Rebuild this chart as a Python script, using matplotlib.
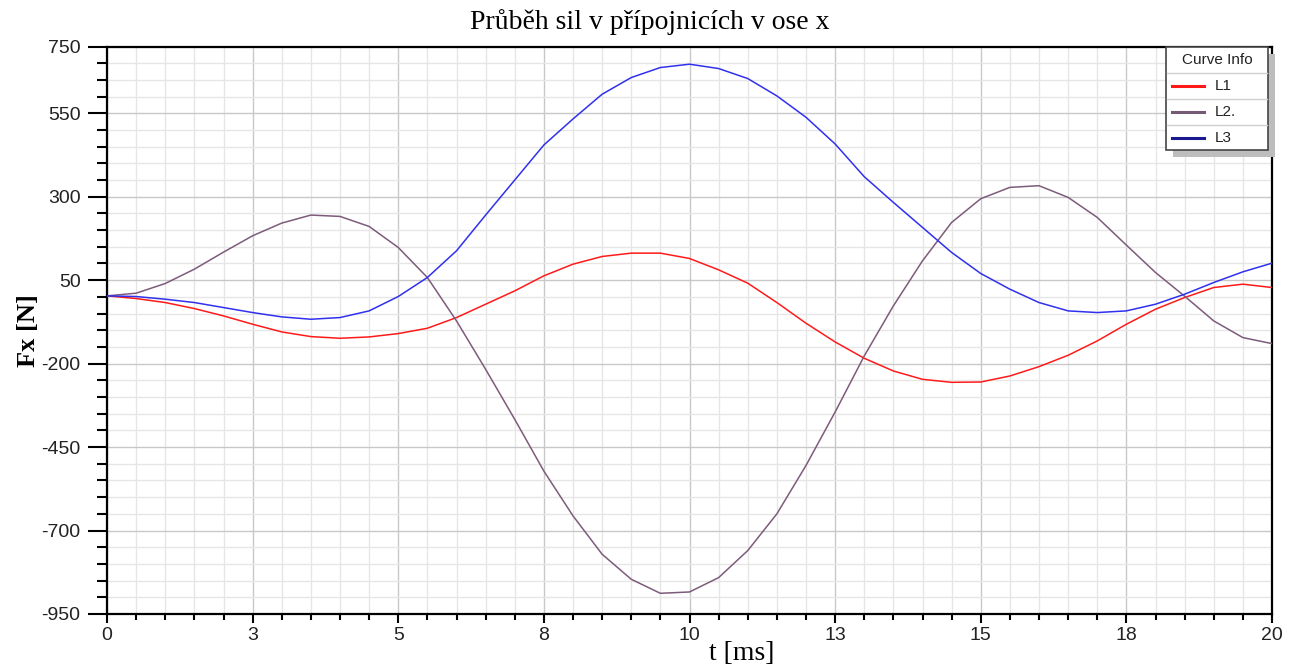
import numpy as np
import matplotlib
matplotlib.use('Agg')
import matplotlib.pyplot as plt
from matplotlib.ticker import MultipleLocator
from matplotlib.lines import Line2D
from matplotlib.patches import Rectangle

# time samples [ms]
T_MS = [0, 0.5, 1, 1.5, 2, 2.5, 3, 3.5, 4, 4.5, 5, 5.5, 6, 6.5, 7, 7.5, 8, 8.5, 9, 9.5,
        10, 10.5, 11, 11.5, 12, 12.5, 13, 13.5, 14, 14.5, 15, 15.5, 16, 16.5, 17, 17.5,
        18, 18.5, 19, 19.5, 20]

# forces Fx [N]
L1 = [3, -5, -17, -35, -57, -82, -105, -119, -124, -120, -110, -94, -62, -22, 18, 63, 98,
      121, 131, 131, 115, 81, 41, -17, -79, -135, -184, -222, -247, -256, -255, -237, -209,
      -175, -132, -82, -37, -2, 28, 38, 28]
L2 = [3, 11, 40, 83, 134, 183, 221, 245, 241, 211, 148, 58, -72, -217, -367, -522, -656,
      -771, -846, -888, -884, -841, -760, -650, -505, -345, -177, -27, 108, 223, 294, 328,
      333, 298, 238, 155, 73, 2, -72, -122, -140]
L3 = [3, 1, -7, -17, -32, -47, -60, -67, -62, -42, 1, 58, 138, 245, 350, 455, 533, 607,
      657, 687, 697, 684, 654, 602, 538, 458, 360, 283, 208, 133, 70, 23, -17, -42, -47,
      -42, -22, 8, 43, 75, 101]

SERIES = [
    ('L1', L1, '#ff1a1a', '#ff1a1a'),
    ('L2.', L2, '#7d5b7b', '#745a74'),
    ('L3', L3, '#3030ee', '#1a1a90'),
]

X_TICKS = [0, 2.5, 5, 7.5, 10, 12.5, 15, 17.5, 20]
X_TICK_LABELS = ['0', '3', '5', '8', '10', '13', '15', '18', '20']
Y_TICKS = [-950, -700, -450, -200, 50, 300, 550, 750]
Y_TICK_LABELS = ['-950', '-700', '-450', '-200', '50', '300', '550', '750']

W, H = 1297, 671
fig = plt.figure(figsize=(W / 100, H / 100), dpi=100, facecolor='white')
ax_l, ax_r, ax_t, ax_b = 107, 1272, 46.5, 614
ax = fig.add_axes([ax_l / W, 1 - ax_b / H, (ax_r - ax_l) / W, (ax_b - ax_t) / H])

ax.set_xlim(0, 20)
ax.set_ylim(-950, 750)

# grid: light minor, darker major
for x in np.arange(0, 20.01, 0.5):
    major = abs(x / 2.5 - round(x / 2.5)) < 1e-9
    ax.axvline(x, color='#c8c8c8' if major else '#e6e6e6', lw=1.0, zorder=0)
for y in range(-950, 751, 50):
    major = (y + 950) % 250 == 0
    ax.axhline(y, color='#c8c8c8' if major else '#e6e6e6', lw=1.0, zorder=0)

for name, vals, col, _ in SERIES:
    ax.plot(T_MS, vals, color=col, lw=1.1, zorder=3)

ax.set_xticks(X_TICKS)
ax.set_xticklabels(X_TICK_LABELS)
ax.set_yticks(Y_TICKS)
ax.set_yticklabels(Y_TICK_LABELS)
ax.xaxis.set_minor_locator(MultipleLocator(0.5))
ax.yaxis.set_minor_locator(MultipleLocator(50))

for lab in ax.get_xticklabels() + ax.get_yticklabels():
    lab.set_fontfamily('Liberation Sans')
    lab.set_fontsize(14)
    lab.set_color('#222222')

ax.tick_params(axis='y', which='major', direction='out', length=14, width=1.5, pad=5)
ax.tick_params(axis='y', which='minor', direction='out', length=7, width=1.5)
ax.tick_params(axis='x', which='major', direction='out', length=6.5, width=1.5, pad=3)
ax.tick_params(axis='x', which='minor', direction='out', length=4.3, width=1.5)

for side in ['left', 'bottom', 'top', 'right']:
    ax.spines[side].set_color('black')
    ax.spines[side].set_linewidth(1.6)

fig.text(650 / W, 1 - 22 / H, 'Průběh sil v přípojnicích v ose x', family='Liberation Serif',
         fontsize=20, ha='center', va='center')
ax.set_xlabel('t [ms]', family='Liberation Serif', fontsize=20)
ax.xaxis.set_label_coords((742 - ax_l) / (ax_r - ax_l), (ax_b - 641) / (ax_b - ax_t))
ax.set_ylabel('Fx [N]', family='Liberation Serif', fontsize=19, fontweight='bold')
ax.yaxis.set_label_coords((40 - ax_l) / (ax_r - ax_l), 0.5)

# legend box "Curve Info"
lx0, ly0, lx1, ly1 = 1166, 46.5, 1268, 150
shadow = Rectangle(((lx0 + 7) / W, 1 - (ly1 + 7) / H), (lx1 - lx0) / W, (ly1 - ly0) / H,
                   transform=fig.transFigure, facecolor='#bdbdbd', edgecolor='none', zorder=10)
fig.patches.append(shadow)
box = Rectangle((lx0 / W, 1 - ly1 / H), (lx1 - lx0) / W, (ly1 - ly0) / H,
                transform=fig.transFigure, facecolor='white', edgecolor='#444444',
                lw=1.2, zorder=11)
fig.patches.append(box)
for ys in [72.7, 99, 125]:
    fig.add_artist(Line2D([(lx0 + 1) / W, (lx1 - 1) / W], [1 - ys / H, 1 - ys / H],
                          color='#d0d0d0', lw=1.0, zorder=12))
fig.text((lx0 + lx1) / 2 / W, 1 - 59.5 / H, 'Curve Info', ha='center', va='center',
         fontsize=11, family='Liberation Sans', color='#222222', zorder=13)
row_y = [86, 112, 137.5]
for (name, _, _, leg_col), ry in zip(SERIES, row_y):
    fig.add_artist(Line2D([1172 / W, 1204 / W], [1 - ry / H, 1 - ry / H],
                          color=leg_col, lw=2.2, zorder=13))
    fig.text(1215 / W, 1 - ry / H, name, ha='left', va='center', fontsize=11,
             family='Liberation Sans', color='#222222', zorder=13)

fig.savefig('out.png', dpi=100, facecolor='white')
